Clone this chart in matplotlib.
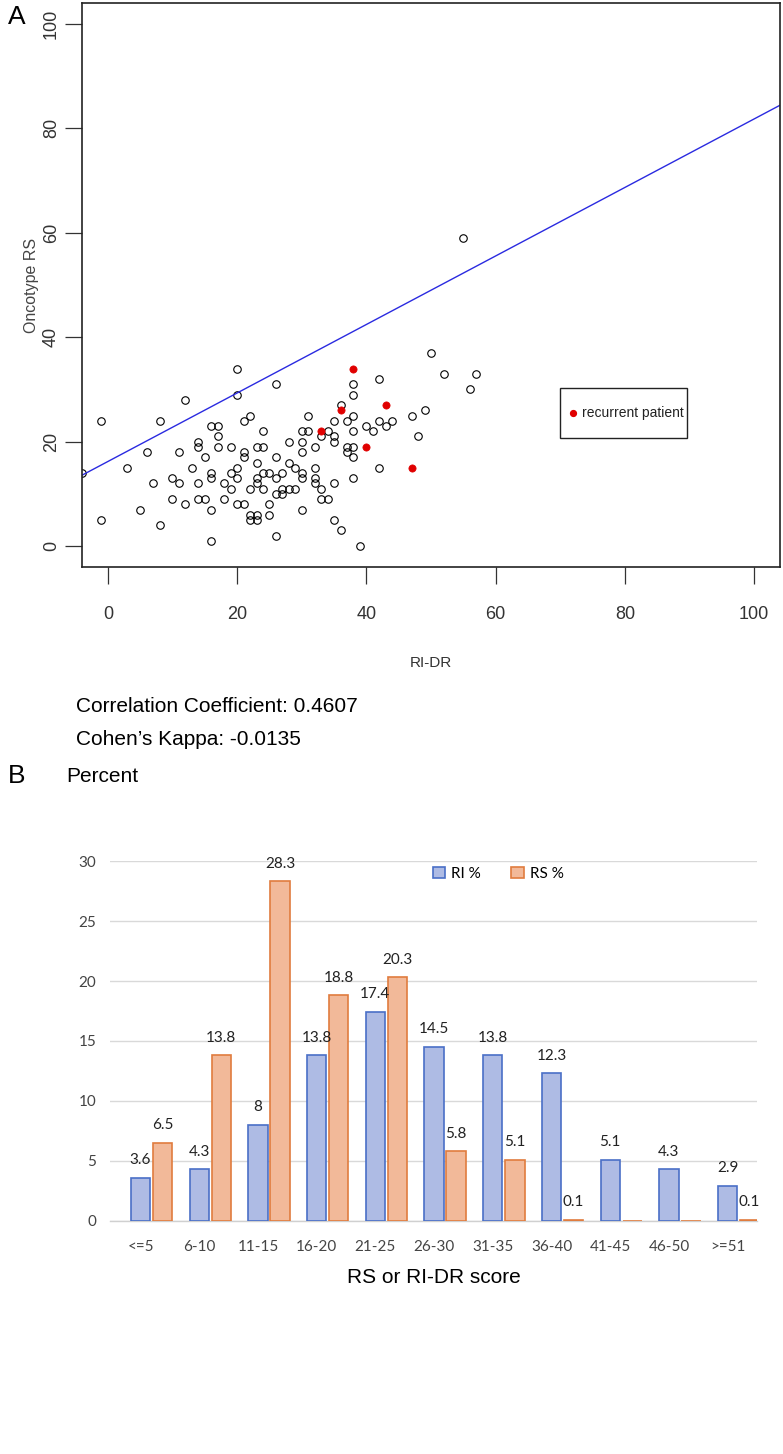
import matplotlib
matplotlib.use("Agg")
import matplotlib.pyplot as plt
from matplotlib.patches import Rectangle
import numpy as np

# ---------------- Panel A data ----------------
ri_dr = [-4, -1, -1, 3, 5, 6, 7, 8, 8, 10, 10, 11, 11, 12, 12, 13, 14, 14, 14, 14,
         15, 15, 16, 16, 16, 16, 16, 17, 17, 17, 18, 18, 19, 19, 19, 20, 20, 20, 20, 20,
         21, 21, 21, 21, 22, 22, 22, 22, 23, 23, 23, 23, 23, 23, 24, 24, 24, 24, 25, 25,
         25, 26, 26, 26, 26, 26, 27, 27, 27, 28, 28, 28, 29, 29, 30, 30, 30, 30, 30, 30,
         31, 31, 32, 32, 32, 32, 33, 33, 33, 34, 34, 35, 35, 35, 35, 35, 36, 36, 37, 37,
         37, 38, 38, 38, 38, 38, 38, 38, 39, 40, 41, 42, 42, 42, 43, 44, 47, 48, 49, 50,
         52, 55, 56, 57]
oncotype_rs = [14, 24, 5, 15, 7, 18, 12, 24, 4, 13, 9, 18, 12, 28, 8, 15, 20, 19, 12, 9,
               17, 9, 23, 14, 13, 7, 1, 23, 21, 19, 12, 9, 19, 14, 11, 34, 29, 15, 13, 8,
               24, 18, 17, 8, 25, 11, 6, 5, 19, 16, 13, 12, 6, 5, 22, 19, 14, 11, 14, 8,
               6, 31, 17, 13, 10, 2, 14, 11, 10, 20, 16, 11, 15, 11, 22, 20, 18, 14, 13, 7,
               25, 22, 19, 15, 13, 12, 21, 11, 9, 22, 9, 24, 21, 20, 12, 5, 27, 3, 24, 19,
               18, 31, 29, 25, 22, 19, 17, 13, 0, 23, 22, 32, 24, 15, 23, 24, 25, 21, 26, 37,
               33, 59, 30, 33]
recurrent_ri_dr = [33, 36, 38, 40, 43, 47]
recurrent_rs = [22, 26, 34, 19, 27, 15]
fit_intercept = 16.2
fit_slope = 0.656
corr_text = "Correlation Coefficient: 0.4607"
kappa_text = "Cohen\u2019s Kappa: -0.0135"

# ---------------- Panel B data ----------------
score_bins = ["<=5", "6-10", "11-15", "16-20", "21-25", "26-30", "31-35",
              "36-40", "41-45", "46-50", ">=51"]
ri_pct = [3.6, 4.3, 8, 13.8, 17.4, 14.5, 13.8, 12.3, 5.1, 4.3, 2.9]
rs_pct = [6.5, 13.8, 28.3, 18.8, 20.3, 5.8, 5.1, 0.1, None, None, 0.1]

W, H = 783, 1454
fig = plt.figure(figsize=(W / 100, H / 100), dpi=100)

R_FONT = ["Liberation Sans Narrow", "Liberation Sans", "DejaVu Sans"]
SANS = ["Liberation Sans", "DejaVu Sans"]

# ---------------- Panel A ----------------
axA = fig.add_axes([82 / W, 1 - 567 / H, 698 / W, 564 / H])
axA.plot(ri_dr, oncotype_rs, linestyle="none", marker="o", markersize=5.4,
         markerfacecolor="none", markeredgecolor="black", markeredgewidth=0.8)
axA.plot(recurrent_ri_dr, recurrent_rs, linestyle="none", marker="o", markersize=5.2,
         markerfacecolor="#e00000", markeredgecolor="#e00000", markeredgewidth=0.5)
xl = np.array([-4, 104])
axA.plot(xl, fit_intercept + fit_slope * xl, color="#2a2ae0", linewidth=1.0)
axA.set_xlim(-4, 104)
axA.set_ylim(-4, 104)
ticksA = [0, 20, 40, 60, 80, 100]
axA.set_xticks(ticksA)
axA.set_yticks(ticksA)
axA.set_xticklabels([str(v) for v in ticksA], family=R_FONT, fontsize=13, color="#333333")
axA.set_yticklabels([str(v) for v in ticksA], family=R_FONT, fontsize=13, color="#333333",
                    rotation=90, va="center")
axA.tick_params(axis="x", length=12, width=0.9, pad=16, color="#333333")
axA.tick_params(axis="y", length=12, width=0.9, pad=4, color="#333333")
for s in axA.spines.values():
    s.set_linewidth(1.2)
    s.set_color("#222222")
axA.set_xlabel("RI-DR", family=R_FONT, fontsize=11, color="#333333", labelpad=24)
axA.set_ylabel("Oncotype RS", family=SANS, fontsize=11.5, color="#444444", labelpad=3)

# legend box (R style)
axA.add_patch(Rectangle((0.685, 0.229), 0.182, 0.088, transform=axA.transAxes,
                        facecolor="white", edgecolor="#222222", linewidth=1.0, zorder=5))
axA.plot([0.703], [0.273], transform=axA.transAxes, linestyle="none", marker="o",
         markersize=4.2, markerfacecolor="#e00000", markeredgecolor="#e00000", zorder=6)
axA.text(0.717, 0.273, "recurrent patient", transform=axA.transAxes, family=R_FONT,
         fontsize=10, color="#222222", va="center", ha="left", zorder=6)

fig.text(8 / W, 1 - 17 / H, "A", family=SANS, fontsize=19, va="center", ha="left")
fig.text(76 / W, 1 - 707 / H, corr_text, family=SANS, fontsize=15, va="center", ha="left")
fig.text(76 / W, 1 - 740 / H, kappa_text, family=SANS, fontsize=15, va="center", ha="left")

# ---------------- Panel B ----------------
fig.text(8 / W, 1 - 776 / H, "B", family=SANS, fontsize=19, va="center", ha="left")
fig.text(66 / W, 1 - 776 / H, "Percent", family=SANS, fontsize=15, va="center", ha="left")

axB = fig.add_axes([110 / W, 1 - 1221 / H, 647 / W, 360 / H])
x = np.arange(len(score_bins))
bw = 0.33
off = 0.375
rs_vals = [v if v is not None else 0 for v in rs_pct]
axB.bar(x, ri_pct, width=bw, color="#aebbe4", edgecolor="#4a6fc7",
        linewidth=1.2, label="RI %", zorder=3)
axB.bar(x + off, rs_vals, width=bw, color="#f2b999", edgecolor="#e07c3e",
        linewidth=1.2, label="RS %", zorder=3)
LBL = ["Lato", "DejaVu Sans"]
for xi, v in zip(x, ri_pct):
    axB.text(xi, v + 0.9, f"{v:g}", ha="center", va="bottom", family=LBL,
             fontsize=11, color="#222222")
for xi, v in zip(x, rs_pct):
    if v is None:
        continue
    axB.text(xi + off, v + 0.9, f"{v:g}", ha="center", va="bottom", family=LBL,
             fontsize=11, color="#222222")
axB.set_ylim(0, 30)
axB.set_xlim(-0.52, 10.5)
axB.set_yticks(range(0, 31, 5))
axB.set_yticklabels([str(v) for v in range(0, 31, 5)], family=LBL, fontsize=11,
                    color="#444444")
axB.set_xticks(x)
axB.set_xticklabels(score_bins, family=LBL, fontsize=11, color="#444444")
axB.tick_params(axis="x", length=0, pad=14)
axB.tick_params(axis="y", length=0, pad=10)
axB.grid(axis="y", color="#d9d9d9", linewidth=1.0, zorder=0)
for k in ["top", "right", "left"]:
    axB.spines[k].set_visible(False)
axB.spines["bottom"].set_color("#d0d0d0")
axB.spines["bottom"].set_linewidth(1.0)
axB.set_xlabel("RS or RI-DR score", family=SANS, fontsize=15, labelpad=10)
axB.legend(loc="center", bbox_to_anchor=(0.60, 0.965), ncol=2, frameon=False,
           handlelength=0.8, handleheight=0.8, handletextpad=0.4,
           columnspacing=2.0, prop={"family": LBL, "size": 11})

fig.savefig("out.png", dpi=100)
